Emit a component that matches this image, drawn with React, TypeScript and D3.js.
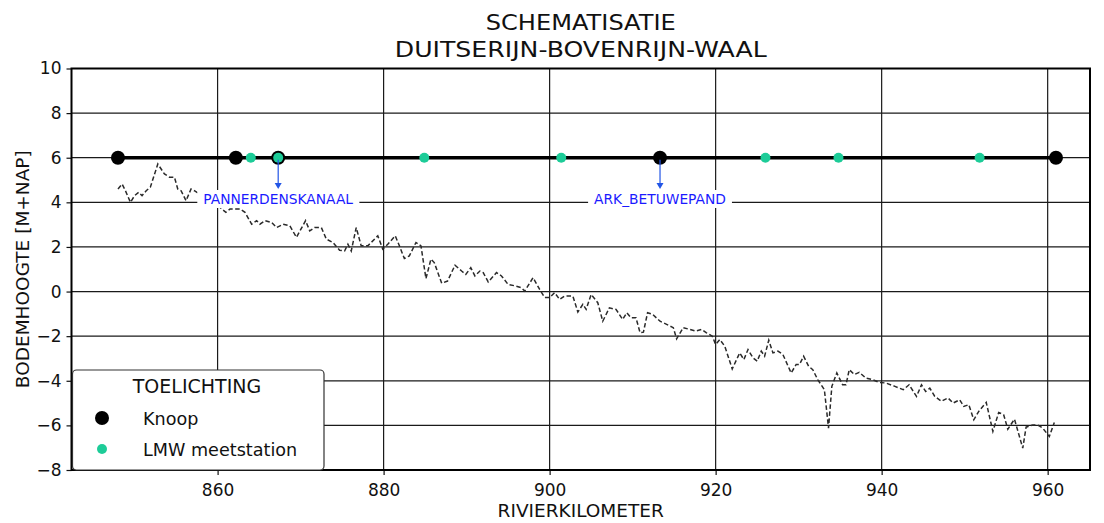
import React, { useEffect, useRef } from "react";
import * as d3 from "d3";

// ---- data ----
const titleLines = ["SCHEMATISATIE", "DUITSERIJN-BOVENRIJN-WAAL"];
const xLabel = "RIVIERKILOMETER";
const yLabel = "BODEMHOOGTE [M+NAP]";
const xTicks = [860, 880, 900, 920, 940, 960];
const yTicks = [-8, -6, -4, -2, 0, 2, 4, 6, 8, 10];

const bedKm = [
  848.0, 848.5, 848.9, 849.5, 850.0, 850.5, 850.9, 851.4, 851.9, 852.8, 853.6, 854.2, 854.8, 855.2, 855.6, 856.2, 856.8, 857.2,
  857.7, 858.3, 858.9, 859.5, 860.2, 861.0, 861.5, 862.7, 863.3, 864.1, 864.7, 865.1, 865.7, 866.5, 867.1, 867.9, 868.7, 869.5,
  870.6, 871.1, 871.7, 872.5, 873.1, 873.9, 874.7, 875.3, 875.7, 876.1, 876.7, 877.3, 878.1, 879.3, 879.9, 880.5, 881.4, 881.9,
  882.5, 883.1, 883.9, 884.5, 885.1, 885.7, 886.1, 887.0, 887.7, 888.6, 889.4, 889.9, 890.5, 891.0, 891.6, 892.0, 892.6, 893.6,
  894.2, 895.0, 895.9, 896.6, 897.0, 898.0, 898.8, 899.4, 900.0, 900.6, 901.2, 901.8, 902.8, 903.4, 904.0, 904.4, 905.0, 905.8,
  906.4, 907.2, 908.0, 908.8, 909.3, 909.8, 910.4, 910.9, 911.3, 911.8, 912.4, 913.3, 914.1, 914.9, 915.3, 916.1, 916.9, 917.6,
  918.3, 918.9, 919.6, 920.0, 920.5, 921.1, 922.0, 922.9, 923.4, 923.9, 924.5, 925.0, 925.5, 925.9, 926.4, 926.9, 927.5, 928.1,
  929.1, 929.7, 930.1, 930.6, 931.2, 931.7, 932.3, 933.1, 933.6, 934.0, 934.6, 935.3, 935.7, 936.1, 936.7, 937.3, 938.1, 938.9,
  939.7, 940.5, 941.6, 942.6, 943.3, 944.2, 944.8, 945.3, 945.8, 946.4, 947.2, 948.0, 948.6, 949.4, 949.9, 950.5, 951.1, 951.7,
  952.6, 953.4, 954.1, 954.7, 955.2, 956.0, 957.0, 957.4, 958.2, 958.8, 959.4, 960.2, 960.8,
];
const bedLevel = [
  4.6, 4.82, 4.52, 4.0, 4.3, 4.45, 4.3, 4.52, 4.68, 5.72, 5.27, 5.13, 5.13, 4.6, 4.52, 4.07, 4.6, 4.52,
  4.4, 4.1, 4.3, 3.9, 3.8, 3.55, 3.7, 3.7, 3.55, 3.02, 3.18, 3.02, 3.18, 3.1, 2.87, 3.02, 2.95, 2.43,
  3.18, 2.72, 2.87, 2.87, 2.35, 2.2, 1.85, 1.82, 2.12, 1.82, 2.87, 2.05, 2.05, 2.5, 1.9, 2.12, 2.5, 2.05,
  1.48, 1.6, 2.2, 2.05, 0.58, 1.45, 1.3, 0.37, 0.47, 1.18, 0.92, 0.77, 1.07, 0.7, 0.92, 0.85, 0.43, 0.85,
  0.7, 0.32, 0.25, 0.17, 0.02, 0.62, 0.1, -0.27, -0.27, -0.05, -0.35, -0.2, -0.2, -0.92, -0.57, -0.8, -0.13, -0.5,
  -1.33, -0.73, -0.8, -1.25, -0.95, -1.17, -1.17, -1.85, -1.82, -0.95, -1.02, -1.33, -1.47, -1.62, -2.12, -1.62, -1.7, -1.77,
  -1.7, -1.85, -2.0, -2.37, -2.15, -2.45, -3.47, -2.75, -3.05, -2.6, -2.97, -3.12, -2.67, -2.9, -2.18, -2.75, -2.67, -2.82,
  -3.65, -3.27, -3.27, -2.9, -3.35, -3.5, -3.95, -4.4, -6.12, -4.25, -3.65, -4.18, -4.18, -3.5, -3.72, -3.62, -3.88, -3.95,
  -4.07, -4.1, -4.25, -4.4, -4.18, -4.7, -4.18, -4.48, -4.33, -4.7, -4.92, -4.77, -5.0, -4.85, -5.15, -5.07, -5.75, -5.37,
  -4.97, -6.27, -5.42, -5.52, -6.17, -5.72, -7.02, -6.08, -5.98, -5.98, -6.12, -6.5, -5.87,
];

const schemaLevel = 6;
const knoopKm = [848.0, 862.2, 867.3, 913.3, 961.0];
const lmwKm = [864.0, 867.3, 884.9, 901.4, 926.0, 934.8, 951.8];
const annotationKm = [867.3, 913.3];
const annotationNames = ["PANNERDENSKANAAL", "ARK_BETUWEPAND"];
const annotationLevel = 4.15;

const legendTitle = "TOELICHTING";
const legendNames = ["Knoop", "LMW meetstation"];

const FONT = "'DejaVu Sans', sans-serif";
const GREEN = "#1dcc98";
const BLUE = "#1a1aff";

export default function App() {
  const ref = useRef<SVGSVGElement | null>(null);

  useEffect(() => {
    const W = 1104, H = 523;
    const m = { left: 71.5, right: 1090, top: 68.5, bottom: 470 };
    const svg = d3.select(ref.current);
    svg.selectAll("*").remove();

    const x = d3.scaleLinear().domain([842.4, 965.1]).range([m.left, m.right]);
    const y = d3.scaleLinear().domain([-8, 10]).range([m.bottom, m.top]);

    svg.append("rect").attr("width", W).attr("height", H).attr("fill", "white");

    // grid
    const grid = svg.append("g");
    xTicks.forEach((t) =>
      grid.append("line").attr("x1", x(t)).attr("x2", x(t)).attr("y1", m.top).attr("y2", m.bottom)
        .attr("stroke", "#1a1a1a").attr("stroke-width", 1.2)
    );
    yTicks.forEach((t) =>
      grid.append("line").attr("x1", m.left).attr("x2", m.right).attr("y1", y(t)).attr("y2", y(t))
        .attr("stroke", "#1a1a1a").attr("stroke-width", 1.2)
    );

    // axes ticks + labels
    const xAxis = d3.axisBottom(x).tickValues(xTicks).tickSize(5).tickPadding(5).tickFormat(d3.format("d"));
    const gx = svg.append("g").attr("transform", `translate(0,${m.bottom})`).call(xAxis);
    const yAxis = d3.axisLeft(y).tickValues(yTicks).tickSize(5).tickPadding(5).tickFormat(d3.format("d"));
    const gy = svg.append("g").attr("transform", `translate(${m.left},0)`).call(yAxis);
    [gx, gy].forEach((g) => {
      g.select(".domain").remove();
      g.selectAll("text").attr("font-family", FONT).attr("font-size", 17).attr("fill", "#111");
      g.selectAll("line").attr("stroke", "#111").attr("stroke-width", 1.2);
    });
    gx.selectAll("text").attr("dy", "0.95em");

    // bed level dashed line
    const line = d3.line<number>().x((_, i) => x(bedKm[i])).y((d) => y(d));
    svg.append("path").attr("d", line(bedLevel) || "").attr("fill", "none")
      .attr("stroke", "#2a2a2a").attr("stroke-width", 1.5).attr("stroke-dasharray", "4.5,2.5");

    // schematisation line
    svg.append("line").attr("x1", x(d3.min(knoopKm)!)).attr("x2", x(d3.max(knoopKm)!))
      .attr("y1", y(schemaLevel)).attr("y2", y(schemaLevel)).attr("stroke", "black").attr("stroke-width", 3.5);

    svg.append("g").selectAll("circle").data(knoopKm).join("circle")
      .attr("cx", (d) => x(d)).attr("cy", y(schemaLevel)).attr("r", 7).attr("fill", "black");
    svg.append("g").selectAll("circle").data(lmwKm).join("circle")
      .attr("cx", (d) => x(d)).attr("cy", y(schemaLevel)).attr("r", 5).attr("fill", GREEN);

    // annotations
    annotationKm.forEach((km, i) => {
      const cx = x(km);
      const ty = y(annotationLevel) + 5;
      const g = svg.append("g");
      const rect = g.append("rect").attr("fill", "white");
      const txt = g.append("text").attr("x", cx).attr("y", ty).attr("text-anchor", "middle")
        .attr("font-family", FONT).attr("font-size", 13.8).attr("fill", BLUE).text(annotationNames[i]);
      const bb = (txt.node() as SVGTextElement).getBBox();
      rect.attr("x", bb.x - 6).attr("y", bb.y - 1).attr("width", bb.width + 12).attr("height", bb.height + 2);
      const a0 = y(schemaLevel) + 2, a1 = ty - 15;
      g.append("line").attr("x1", cx).attr("x2", cx).attr("y1", a0).attr("y2", a1 - 4)
        .attr("stroke", "#2255e6").attr("stroke-width", 1.2);
      g.append("path").attr("d", `M${cx - 3.5},${a1 - 6} L${cx + 3.5},${a1 - 6} L${cx},${a1} Z`).attr("fill", "#2255e6");
    });

    // frame
    svg.append("rect").attr("x", m.left).attr("y", m.top).attr("width", m.right - m.left)
      .attr("height", m.bottom - m.top).attr("fill", "none").attr("stroke", "black").attr("stroke-width", 2);

    // legend
    const lg = svg.append("g");
    lg.append("rect").attr("x", 72.5).attr("y", 370).attr("width", 251.5).attr("height", 100).attr("rx", 4)
      .attr("fill", "white").attr("stroke", "#333").attr("stroke-width", 1.2);
    lg.append("text").attr("x", 197).attr("y", 393).attr("text-anchor", "middle").attr("font-family", FONT)
      .attr("font-size", 19).attr("fill", "#111").text(legendTitle);
    const legendColors = ["black", GREEN];
    const legendR = [7, 5];
    legendNames.forEach((n, i) => {
      const cy = 418 + i * 31;
      lg.append("circle").attr("cx", 102).attr("cy", cy).attr("r", legendR[i]).attr("fill", legendColors[i]);
      lg.append("text").attr("x", 143).attr("y", cy + 6.5).attr("font-family", FONT).attr("font-size", 17.6)
        .attr("fill", "#111").text(n);
    });

    // titles
    const titleWidths = [190, 372];
    titleLines.forEach((t, i) => {
      svg.append("text").attr("x", (m.left + m.right) / 2).attr("y", 30 + i * 27).attr("text-anchor", "middle")
        .attr("font-family", FONT).attr("font-size", 22).attr("fill", "#111")
        .attr("textLength", titleWidths[i]).attr("lengthAdjust", "spacingAndGlyphs").text(t);
    });
    svg.append("text").attr("x", (m.left + m.right) / 2).attr("y", 517).attr("text-anchor", "middle")
      .attr("font-family", FONT).attr("font-size", 18.5).attr("fill", "#111").text(xLabel);
    svg.append("text").attr("transform", `translate(29,${(m.top + m.bottom) / 2}) rotate(-90)`)
      .attr("text-anchor", "middle").attr("font-family", FONT).attr("font-size", 18.5).attr("fill", "#111")
      .text(yLabel);
  }, []);

  return (
    <svg ref={ref} width={1104} height={523} style={{ position: "absolute", left: 0, top: 0, display: "block" }} />
  );
}
